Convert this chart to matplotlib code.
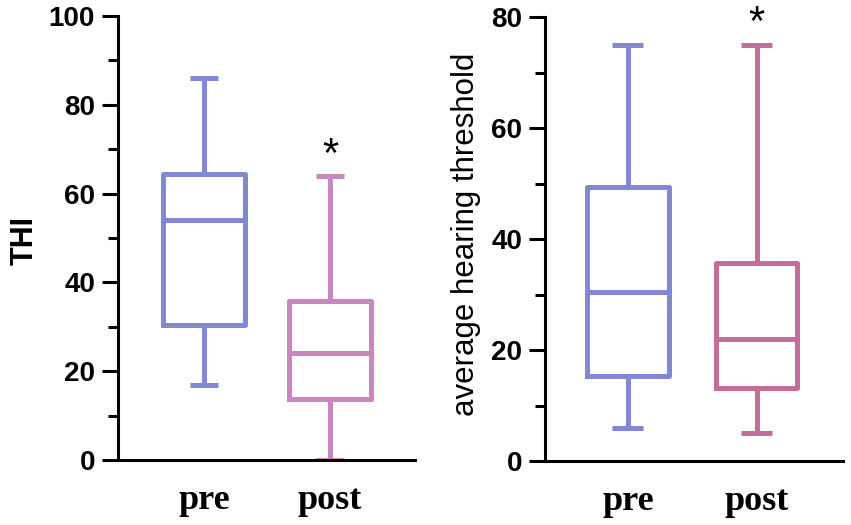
import matplotlib.pyplot as plt

# data (whisker low, q1, median, q3, whisker high)
groups = ["pre", "post"]

thi_low = [17, 0]
thi_q1 = [30.5, 13.7]
thi_med = [54, 24]
thi_q3 = [64.5, 35.8]
thi_high = [86, 64]

aht_low = [6, 5]
aht_q1 = [15.4, 13.2]
aht_med = [30.4, 22]
aht_q3 = [49.4, 35.6]
aht_high = [75, 75]

# significance marks (group index, y position)
thi_star = (2, 68.4)
aht_star = (2, 78.8)

pre_color = "#8189d4"
post_colors = ["#c987bd", "#c46d99"]

plt.rcParams["font.family"] = ["Liberation Sans", "DejaVu Sans"]

fig = plt.figure(figsize=(8.51, 5.25), dpi=100)
ax1 = fig.add_axes([0.1387, 0.1238, 0.349, 0.8457])
ax2 = fig.add_axes([0.6404, 0.1219, 0.350, 0.8457])


def make_stats(low, q1, med, q3, high):
    return [dict(whislo=low[i], q1=q1[i], med=med[i], q3=q3[i], whishi=high[i],
                 label=groups[i], fliers=[]) for i in range(len(groups))]


def draw(ax, stats, colors, width, capw):
    bp = ax.bxp(stats, positions=[1, 2], widths=width, showfliers=False,
                patch_artist=False, capwidths=capw)
    for i, c in enumerate(colors):
        for art in [bp["boxes"][i], bp["medians"][i]]:
            art.set_color(c)
            art.set_linewidth(3.6)
        for art in bp["whiskers"][2 * i:2 * i + 2] + bp["caps"][2 * i:2 * i + 2]:
            art.set_color(c)
            art.set_linewidth(3.6)
            art.set_solid_capstyle("butt")
    for side in ["top", "right"]:
        ax.spines[side].set_visible(False)
    for side in ["left", "bottom"]:
        ax.spines[side].set_linewidth(2.2)
    ax.tick_params(axis="y", which="major", length=11.5, width=2.2, pad=5,
                   labelsize=20)
    ax.tick_params(axis="y", which="minor", length=7, width=2.2)
    ax.tick_params(axis="x", length=0, pad=17)
    ax.set_xticks([1, 2])
    ax.set_xticklabels(groups, family="Liberation Serif", fontweight="bold",
                       fontsize=26)


draw(ax1, make_stats(thi_low, thi_q1, thi_med, thi_q3, thi_high),
     [pre_color, post_colors[0]], 0.65, 0.22)
ax1.set_xlim(0.317, 2.675)
ax1.set_ylim(0, 100)
ax1.set_yticks(range(0, 101, 20))
ax1.set_yticks(range(10, 100, 20), minor=True)
for lab in ax1.get_yticklabels():
    lab.set_fontweight("bold")
ax1.set_ylabel("THI", fontsize=22, fontweight="bold")
ax1.yaxis.set_label_coords(-0.265, 0.495)
ax1.text(thi_star[0], thi_star[1], "*", ha="center", va="center", fontsize=30)

draw(ax2, make_stats(aht_low, aht_q1, aht_med, aht_q3, aht_high),
     [pre_color, post_colors[1]], 0.63, 0.24)
ax2.set_xlim(0.357, 2.667)
ax2.set_ylim(0, 80)
ax2.set_yticks(range(0, 81, 20))
ax2.set_yticks(range(10, 80, 20), minor=True)
for lab in ax2.get_yticklabels():
    lab.set_fontweight("bold")
ax2.set_ylabel("average hearing threshold", fontsize=22.5)
ax2.yaxis.set_label_coords(-0.215, 0.51)
ax2.text(aht_star[0], aht_star[1], "*", ha="center", va="center", fontsize=30,
         clip_on=False)

fig.savefig("out.png", dpi=100)
